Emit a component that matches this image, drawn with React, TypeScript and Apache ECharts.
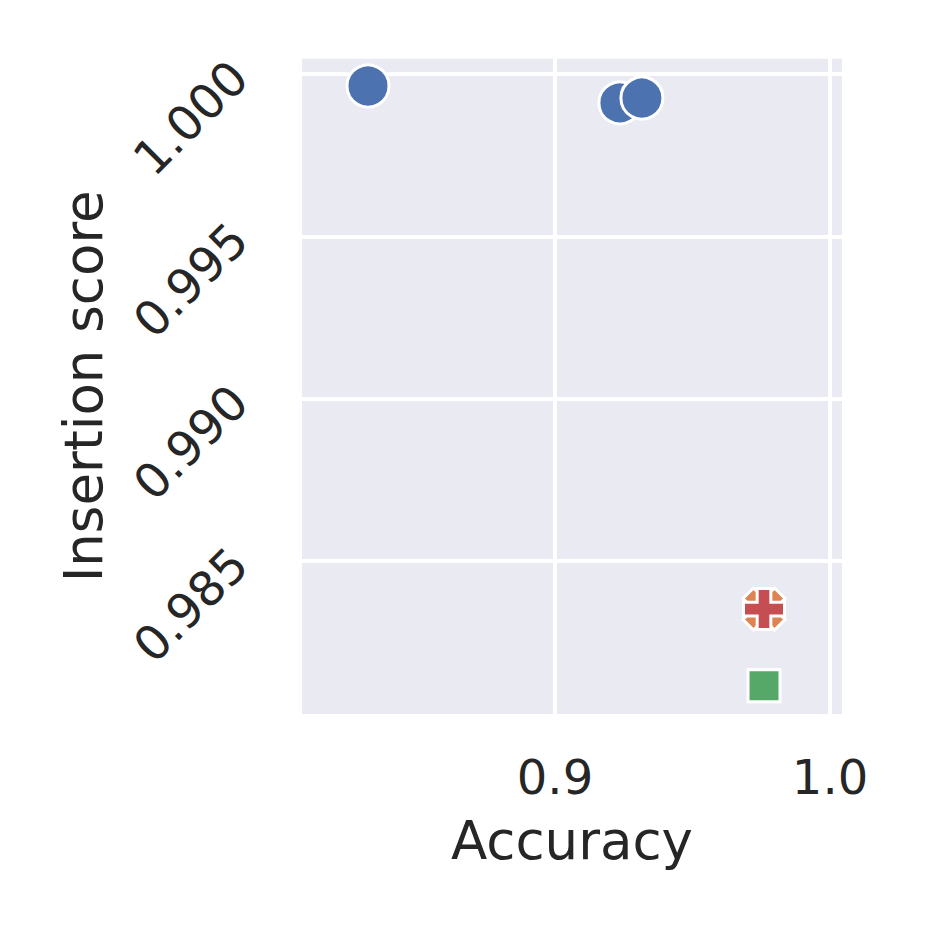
import React, { useEffect, useRef } from "react";
import * as echarts from "echarts";

// Data
const circleAccuracy = [0.832, 0.9236, 0.9316];
const circleScore = [0.99963, 0.99911, 0.99926];
const xMarkAccuracy = [0.976];
const xMarkScore = [0.98352];
const plusAccuracy = [0.976];
const plusScore = [0.98352];
const squareAccuracy = [0.976];
const squareScore = [0.98116];

const xTicks = [0.9, 1.0];
const yTicks = [0.985, 0.99, 0.995, 1.0];

const PLUS_PATH =
  "path://M-1,-3L1,-3L1,-1L3,-1L3,1L1,1L1,3L-1,3L-1,1L-3,1L-3,-1L-1,-1Z";
const X_PATH =
  "path://M-1,-2L0,-1L1,-2L2,-1L1,0L2,1L1,2L0,1L-1,2L-2,1L-1,0L-2,-1Z";

const pairs = (xs: number[], ys: number[]) => xs.map((x, i) => [x, ys[i]]);

const TEXT = "#262626";
const FONT = "DejaVu Sans";

export default function App() {
  const ref = useRef<HTMLDivElement>(null);
  useEffect(() => {
    if (!ref.current) return;
    const chart = echarts.init(ref.current, undefined, { renderer: "svg" });
    const edge = { borderColor: "#ffffff", borderWidth: 3, opacity: 1 };
    chart.setOption({
      animation: false,
      backgroundColor: "#ffffff",
      textStyle: { fontFamily: FONT, color: TEXT },
      grid: {
        left: 302,
        top: 58.7,
        right: 92,
        bottom: 220,
        show: true,
        backgroundColor: "#EAEAF2",
        borderWidth: 0,
      },
      xAxis: {
        type: "value",
        min: 0.808,
        max: 1.00436,
        name: "Accuracy",
        nameLocation: "middle",
        nameGap: 100,
        nameTextStyle: { fontSize: 53, color: TEXT, fontFamily: FONT },
        axisLine: { show: false },
        axisTick: { show: false, customValues: xTicks },
        axisLabel: {
          customValues: xTicks,
          fontSize: 48,
          color: TEXT,
          fontFamily: FONT,
          margin: 39,
          formatter: (v: number) => v.toFixed(1),
        },
        splitLine: { show: true, lineStyle: { color: "#ffffff", width: 4 } },
      },
      yAxis: {
        type: "value",
        min: 0.980288,
        max: 1.000471,
        name: "Insertion score",
        nameLocation: "middle",
        nameGap: 192,
        nameRotate: 90,
        nameTextStyle: { fontSize: 53, color: TEXT, fontFamily: FONT },
        axisLine: { show: false },
        axisTick: { show: false, customValues: yTicks },
        axisLabel: {
          customValues: yTicks,
          fontSize: 48,
          color: TEXT,
          fontFamily: FONT,
          rotate: 45,
          margin: 58,
          verticalAlign: "bottom",
          lineHeight: 14,
          formatter: (v: number) => v.toFixed(3),
        },
        splitLine: { show: true, lineStyle: { color: "#ffffff", width: 4 } },
      },
      series: [
        {
          type: "scatter",
          data: pairs(circleAccuracy, circleScore),
          symbol: "circle",
          symbolSize: 42,
          itemStyle: { color: "#4C72B0", ...edge },
          z: 3,
        },
        {
          type: "scatter",
          data: pairs(xMarkAccuracy, xMarkScore),
          symbol: X_PATH,
          symbolSize: 42,
          itemStyle: { color: "#DD8452", ...edge },
          z: 4,
        },
        {
          type: "scatter",
          data: pairs(plusAccuracy, plusScore),
          symbol: PLUS_PATH,
          symbolSize: 41,
          itemStyle: { color: "#C44E52", ...edge },
          z: 5,
        },
        {
          type: "scatter",
          data: pairs(squareAccuracy, squareScore),
          symbol: "rect",
          symbolSize: 32,
          itemStyle: { color: "#55A868", ...edge },
          z: 6,
        },
      ],
    });
    return () => chart.dispose();
  }, []);
  return <div ref={ref} style={{ width: 934, height: 934, margin: -8 }} />;
}
